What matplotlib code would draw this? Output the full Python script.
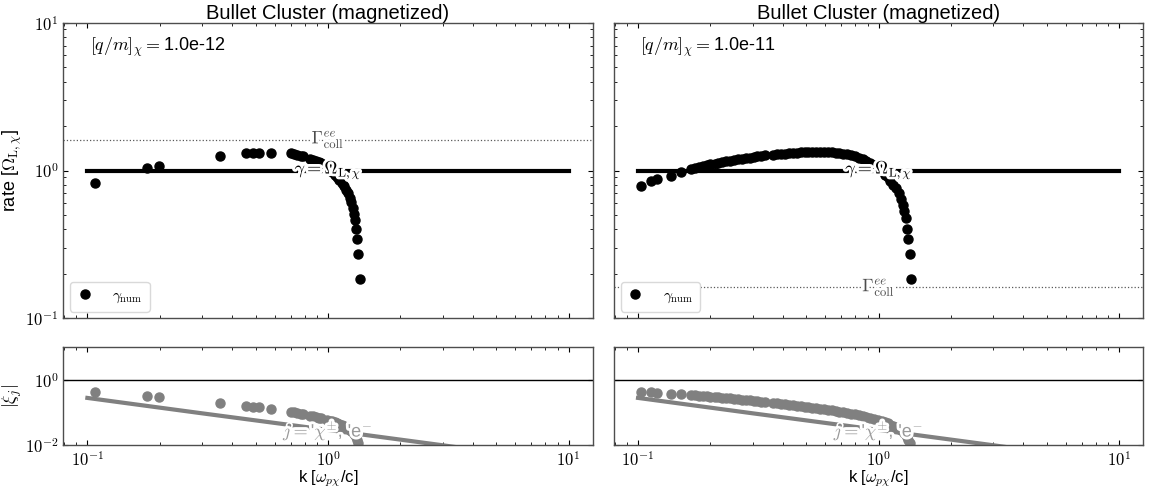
import numpy as np
import matplotlib
matplotlib.use("Agg")
import matplotlib.pyplot as plt
import matplotlib.ticker as mticker
import matplotlib.patheffects as pe

plt.rcParams['font.family'] = ['Liberation Sans', 'DejaVu Sans']
plt.rcParams['mathtext.fontset'] = 'cm'

# --- data ---
# left panel, [q/m]_chi = 1e-12
k_a = [0.108, 0.177, 0.199, 0.356, 0.457, 0.487, 0.515, 0.579,
       0.70, 0.72, 0.745, 0.77, 0.79, 0.84, 0.865, 0.89, 0.915, 0.94,
       0.99, 1.015, 1.04, 1.065, 1.09, 1.115, 1.14, 1.165, 1.19, 1.21,
       1.23, 1.25, 1.27, 1.285, 1.30, 1.31, 1.32, 1.335, 1.355]
rate_a = [0.82, 1.035, 1.078, 1.26, 1.31, 1.31, 1.31, 1.32,
          1.31, 1.30, 1.28, 1.26, 1.245, 1.20, 1.18, 1.16, 1.14, 1.12,
          1.06, 1.02, 0.98, 0.94, 0.90, 0.86, 0.82, 0.78, 0.74, 0.70,
          0.655, 0.61, 0.56, 0.51, 0.46, 0.405, 0.344, 0.272, 0.184]
xi_a = [0.425, 0.327, 0.303, 0.198, 0.1605, 0.1506, 0.1424, 0.1277,
        0.1048, 0.1011, 0.0962, 0.0916, 0.0883, 0.080, 0.0764, 0.073, 0.0698, 0.0667,
        0.060, 0.0563, 0.0528, 0.0494, 0.0462, 0.0432, 0.0403, 0.0375, 0.0348, 0.0324,
        0.0298, 0.0273, 0.0247, 0.0222, 0.0198, 0.0173, 0.0146, 0.0114, 0.0076]

# right panel, [q/m]_chi = 1e-11
k_b = [0.103, 0.113, 0.120, 0.137, 0.151,
       0.166, 0.172, 0.179, 0.186, 0.193, 0.200, 0.208, 0.216, 0.224, 0.232,
       0.241, 0.250, 0.260, 0.270, 0.280, 0.291, 0.302, 0.313, 0.325, 0.337,
       0.365, 0.379, 0.393, 0.408, 0.424, 0.440, 0.457, 0.474, 0.492, 0.511,
       0.530, 0.550, 0.571, 0.593, 0.615, 0.638, 0.662, 0.687, 0.713, 0.740,
       0.768, 0.797, 0.827, 0.858, 0.890, 0.924, 0.959, 0.995, 1.03, 1.06,
       1.09, 1.12, 1.15, 1.18, 1.21, 1.235, 1.26, 1.28, 1.295, 1.315,
       1.33, 1.345, 1.365]
rate_b = [0.79, 0.845, 0.875, 0.92, 0.975,
          1.03, 1.045, 1.06, 1.075, 1.09, 1.10, 1.115, 1.13, 1.14, 1.155,
          1.165, 1.18, 1.19, 1.20, 1.21, 1.22, 1.235, 1.245, 1.255, 1.265,
          1.28, 1.29, 1.295, 1.30, 1.31, 1.315, 1.32, 1.325, 1.33, 1.33,
          1.335, 1.335, 1.335, 1.33, 1.33, 1.325, 1.32, 1.31, 1.30, 1.285,
          1.265, 1.245, 1.22, 1.195, 1.165, 1.13, 1.085, 1.04, 0.99, 0.94,
          0.90, 0.85, 0.80, 0.76, 0.70, 0.645, 0.585, 0.53, 0.48, 0.405,
          0.344, 0.272, 0.184]
xi_b = [0.4295, 0.4188, 0.4083, 0.3761, 0.3616,
        0.3475, 0.3402, 0.3316, 0.3237, 0.3163, 0.308, 0.3002, 0.293, 0.285, 0.2788,
        0.2707, 0.2643, 0.2563, 0.2489, 0.242, 0.2348, 0.229, 0.2227, 0.2162, 0.2102,
        0.1964, 0.1906, 0.1845, 0.1784, 0.173, 0.1674, 0.1618, 0.1565, 0.1514, 0.1458,
        0.1411, 0.1359, 0.1309, 0.1256, 0.1211, 0.1163, 0.1117, 0.1068, 0.1021, 0.0972,
        0.0922, 0.0875, 0.0826, 0.078, 0.0733, 0.0685, 0.0634, 0.0585, 0.0538, 0.0497,
        0.0462, 0.0425, 0.039, 0.0361, 0.0324, 0.0292, 0.026, 0.0232, 0.0208, 0.0172,
        0.0145, 0.0113, 0.0075]

# analytic estimates
k_line = [0.1, 10.0]
omega_line = [1.0, 1.0]
k_xi_est = [0.1, 0.3, 1.0, 3.0, 10.0]
xi_est = [0.28, 0.094, 0.029, 0.0098, 0.0029]

gamma_coll = [1.62, 0.162]
qm_labels = ['1.0e-12', '1.0e-11']

panels = [(k_a, rate_a, xi_a), (k_b, rate_b, xi_b)]

white = [pe.withStroke(linewidth=4, foreground='white')]


def log_fmt(v, pos):
    return r'$10^{%d}$' % int(round(np.log10(v)))


def style_axis(ax):
    ax.tick_params(which='both', direction='in', top=True, right=True, labelsize=12)
    ax.tick_params(which='major', length=3.5, width=0.8)
    ax.tick_params(which='minor', length=2, width=0.6)
    for s in ax.spines.values():
        s.set_color('0.3')
        s.set_linewidth(1.0)


fig = plt.figure(figsize=(11.49, 4.91), dpi=100)
gs = fig.add_gridspec(2, 2, height_ratios=[3.03, 1], left=0.0551, right=0.995,
                      top=0.9538, bottom=0.0937, wspace=0.0404, hspace=0.1475)

for i, (k, rate, xi) in enumerate(panels):
    ax = fig.add_subplot(gs[0, i])
    axb = fig.add_subplot(gs[1, i], sharex=ax)

    # top: growth rate
    ax.plot(k_line, omega_line, color='k', lw=3)
    ax.axhline(gamma_coll[i], color='0.35', lw=0.9, ls=':')
    ax.plot(k, rate, 'o', color='k', ms=6.5, label=r'$\gamma_{\rm num}$')
    ax.set_xscale('log')
    ax.set_yscale('log')
    ax.set_ylim(0.1, 10)
    ax.text(1.0, 1.0, r'$\gamma=\Omega_{\rm L,\chi}$', ha='center', va='center',
            fontsize=13, color='k', path_effects=white, zorder=5)
    ax.text(1.0, gamma_coll[i], r'$\Gamma^{ee}_{\rm coll}$', ha='center', va='center',
            fontsize=13, color='0.3', path_effects=white, zorder=5)
    ax.text(0.05, 0.915, r'$[q/m]_\chi=$' + qm_labels[i], transform=ax.transAxes,
            ha='left', va='center', fontsize=13)
    ax.set_title('Bullet Cluster (magnetized)', fontsize=14.5, pad=3)
    ax.legend(loc='lower left', fontsize=11, handlelength=1.0, handletextpad=1.3,
              borderpad=0.45, fancybox=True, framealpha=1, edgecolor='0.85',
              borderaxespad=0.45)
    style_axis(ax)
    ax.yaxis.set_major_formatter(mticker.FuncFormatter(log_fmt))
    ax.yaxis.set_minor_formatter(mticker.NullFormatter())
    plt.setp(ax.get_xticklabels(), visible=False)

    # bottom: |xi_j|
    axb.axhline(1.0, color='k', lw=1)
    axb.plot(k_xi_est, xi_est, color='grey', lw=3)
    axb.plot(k, xi, 'o', color='grey', ms=6.5)
    axb.set_yscale('log')
    axb.set_ylim(1e-2, 10)
    axb.set_yticks([1e-2, 1.0])
    axb.yaxis.set_minor_locator(mticker.NullLocator())
    axb.text(1.0, 0.027, r"$j=$'$\chi^{\pm}$, 'e$^{-}$", ha='center', va='center',
             fontsize=13, color='0.6', path_effects=white, zorder=5)
    axb.set_xlabel(r'k [$\omega_{p\chi}$/c]', fontsize=12, labelpad=0)
    style_axis(axb)
    axb.xaxis.set_major_formatter(mticker.FuncFormatter(log_fmt))
    axb.yaxis.set_major_formatter(mticker.FuncFormatter(log_fmt))
    axb.set_xlim(10 ** -1.1, 10 ** 1.1)

    if i == 0:
        ax.set_ylabel(r'rate [$\Omega_{\rm L,\chi}$]', fontsize=13)
        axb.set_ylabel(r'$|\xi_j|$', fontsize=13)
        ax.yaxis.set_label_coords(-0.074, 0.5)
        axb.yaxis.set_label_coords(-0.074, 0.5)
    else:
        plt.setp(ax.get_yticklabels(), visible=False)
        plt.setp(axb.get_yticklabels(), visible=False)

fig.savefig('out.png', dpi=100)
